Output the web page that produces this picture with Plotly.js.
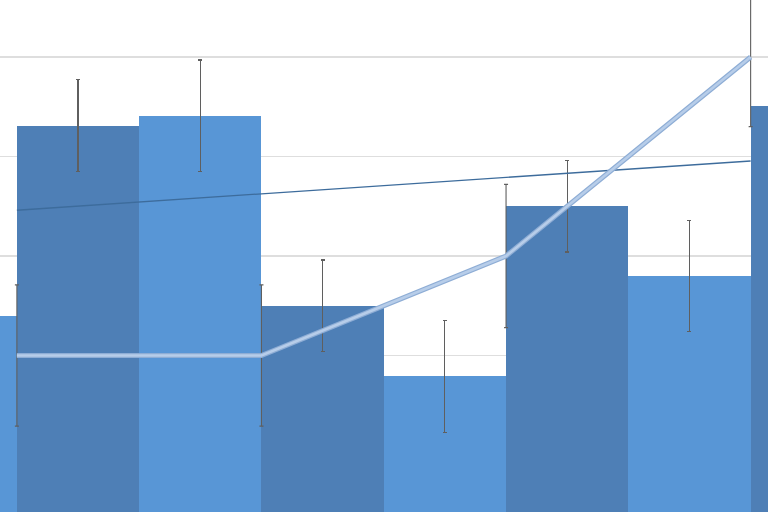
<!DOCTYPE html>
<html>
<head>
<meta charset="utf-8">
<script src="https://cdn.plot.ly/plotly-3.0.1.min.js"></script>
<style>html,body{margin:0;padding:0;background:#fff;}#chart{width:768px;height:512px;}</style>
</head>
<body>
<div id="chart"></div>
<script>
// Data (arbitrary units, gridlines every 1)
var barX = [0, 1, 2, 3, 4, 5, 6, 7];
var barValues = [2.40, 4.31, 4.41, 2.50, 1.79, 3.50, 2.80, 4.51];
var barErrors = [0.56, 0.46, 0.56, 0.46, 0.56, 0.46, 0.56, 0.46];
var barColors = ['#5896d6', '#4e7fb6', '#5896d6', '#4e7fb6', '#5896d6', '#4e7fb6', '#5896d6', '#4e7fb6'];

var lineX = [0.5, 2.5, 4.5, 6.5];
var lineValues = [2.0, 2.0, 3.0, 5.0];
var lineErrors = [0.71, 0.71, 0.72, 0.70];

var trendX = [0.5, 6.5];
var trendValues = [3.46, 3.955];

var traces = [
  {
    type: 'bar', x: barX, y: barValues, width: 1,
    marker: {color: barColors, line: {width: 0}},
    error_y: {type: 'data', array: barErrors, visible: true, color: '#5f5f5f', thickness: 1.1, width: 2},
    hoverinfo: 'none'
  },
  {
    type: 'scatter', mode: 'lines', x: trendX, y: trendValues,
    line: {color: '#3d6c9c', width: 1.3},
    hoverinfo: 'none'
  },
  {
    type: 'scatter', mode: 'lines', x: lineX, y: lineValues,
    line: {color: '#8eadd5', width: 5},
    error_y: {type: 'data', array: lineErrors, visible: true, color: '#5f5f5f', thickness: 1.1, width: 2},
    hoverinfo: 'none'
  },
  {
    type: 'scatter', mode: 'lines', x: lineX, y: lineValues,
    line: {color: '#b7cde9', width: 2.6},
    hoverinfo: 'none'
  }
];

var layout = {
  width: 768, height: 512,
  margin: {l: 0, r: 0, t: 0, b: 0, pad: 0},
  paper_bgcolor: '#ffffff', plot_bgcolor: '#ffffff',
  showlegend: false,
  bargap: 0,
  xaxis: {range: [0.362, 6.642], showgrid: false, zeroline: false, showticklabels: false, ticks: '', showline: false},
  yaxis: {range: [0.427, 5.573], dtick: 1, tick0: 0, showgrid: true, gridcolor: '#dedede', gridwidth: 1.2,
          zeroline: false, showticklabels: false, ticks: '', showline: false}
};

Plotly.newPlot('chart', traces, layout, {staticPlot: true, displayModeBar: false});
</script>
</body>
</html>
